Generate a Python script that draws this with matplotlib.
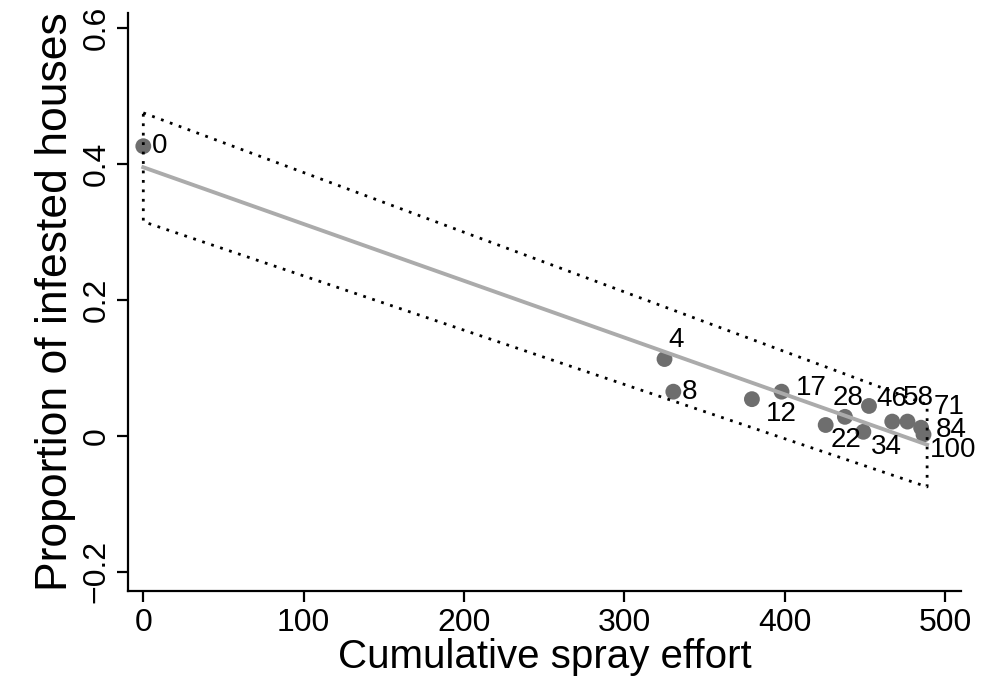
import matplotlib
matplotlib.use("Agg")
import matplotlib.pyplot as plt

plt.rcParams["font.family"] = ["Liberation Sans", "DejaVu Sans"]

# cumulative spray effort vs proportion of infested houses, labelled by month
effort = [0, 325, 330.5, 379.5, 398, 425.5, 437.5, 449, 452.5, 467, 476.5, 485, 486.5]
prop = [0.426, 0.113, 0.065, 0.054, 0.065, 0.016, 0.028, 0.006, 0.044, 0.021, 0.021, 0.012, 0.002]
point_labels = ["0", "4", "8", "12", "17", "22", "28", "34", "46", "58", "71", "84", "100"]

# fitted line and band end points
fit_x = [0, 488.75]
fit_y = [0.395, -0.013]
band_upper = [0.475, 0.046]
band_lower = [0.315, -0.075]

# label offsets in pixels (dx, dy)
label_offsets = [(9, 0), (4, 19), (8, 0), (14, -15), (14, 4), (5, -15), (-12, 19),
                 (8, -15), (7, 7), (11, 24), (26, 15), (15, -2), (6, -15)]

fig = plt.figure(figsize=(9.94, 6.8), dpi=100)
ax = fig.add_axes([0.129, 0.131, 0.838, 0.85])

# band outline (dotted polygon)
bx = [fit_x[0], fit_x[1], fit_x[1], fit_x[0], fit_x[0]]
by = [band_upper[0], band_upper[1], band_lower[1], band_lower[0], band_upper[0]]
ax.plot(bx, by, color="black", linestyle=(0, (1.0, 2.4)), linewidth=2.0, zorder=3)

ax.scatter(effort, prop, s=130, color="#6e6e6e", edgecolors="none", zorder=2)

ax.plot(fit_x, fit_y, color="#ababab", linewidth=2.8, zorder=4)

for x, y, lab, (dx, dy) in zip(effort, prop, point_labels, label_offsets):
    ax.annotate(lab, (x, y), xytext=(dx, dy), textcoords="offset pixels",
                ha="left", va="center", fontsize=20, zorder=5)

ax.set_xlim(-9.4, 510)
ax.set_ylim(-0.228, 0.622)
ax.set_xticks([0, 100, 200, 300, 400, 500])
ax.set_yticks([-0.2, 0, 0.2, 0.4, 0.6])
ax.set_yticklabels(["\u22120.2", "0", "0.2", "0.4", "0.6"], rotation=90, va="center")

ax.spines["top"].set_visible(False)
ax.spines["right"].set_visible(False)
ax.spines["left"].set_linewidth(1.6)
ax.spines["bottom"].set_linewidth(1.6)
ax.tick_params(axis="both", length=8, width=1.6, labelsize=23, pad=4)

ax.set_xlabel("Cumulative spray effort", fontsize=29, labelpad=0)
ax.set_ylabel("Proportion of infested houses", fontsize=32, labelpad=4)

fig.savefig("out.png", dpi=100)
